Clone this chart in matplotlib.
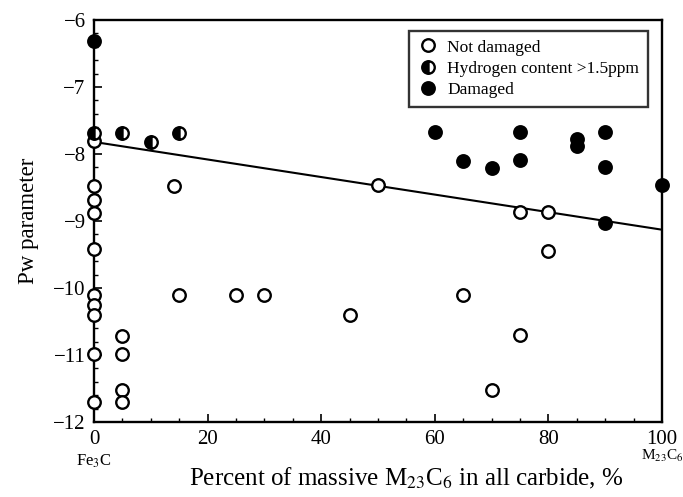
import numpy as np
import matplotlib
matplotlib.use("Agg")
import matplotlib.pyplot as plt
from matplotlib.ticker import MultipleLocator

# data
not_x = [0, 0, 0, 0, 0, 0, 0, 0, 0, 0, 5, 5, 5, 5, 14, 15, 25, 30, 45, 50, 65, 70, 75, 75, 80, 80]
not_y = [-7.8, -8.48, -8.68, -8.88, -9.42, -10.1, -10.25, -10.4, -10.99, -11.7,
         -10.72, -10.99, -11.52, -11.7, -8.48, -10.1, -10.1, -10.1, -10.4, -8.47,
         -10.1, -11.52, -8.87, -10.7, -8.87, -9.45]
hyd_x = [0, 5, 10, 15]
hyd_y = [-7.68, -7.68, -7.82, -7.68]
dam_x = [0, 60, 65, 70, 75, 75, 85, 85, 90, 90, 90, 100]
dam_y = [-6.31, -7.67, -8.11, -8.21, -7.67, -8.09, -7.78, -7.88, -7.67, -8.19, -9.03, -8.46]
line_x = [0, 100]
line_y = [-7.82, -9.13]

plt.rcParams['font.family'] = ['Liberation Serif', 'DejaVu Serif']
plt.rcParams['mathtext.fontset'] = 'stix'

fig = plt.figure(figsize=(6.83, 4.97), dpi=100)
ax = fig.add_axes([0.1376, 0.1509, 0.9693 - 0.1376, 0.9598 - 0.1509])

ax.plot(line_x, line_y, color='black', lw=1.5, zorder=2)
ms = 9
ax.plot(not_x, not_y, 'o', ls='none', ms=ms, mfc='white', mec='black', mew=1.7,
        clip_on=False, zorder=3, label='Not damaged')
ax.plot(hyd_x, hyd_y, 'o', ls='none', ms=ms, mfc='black', mec='black', mew=1.7,
        fillstyle='left', markerfacecoloralt='white',
        clip_on=False, zorder=3, label='Hydrogen content >1.5ppm')
ax.plot(dam_x, dam_y, 'o', ls='none', ms=ms, mfc='black', mec='black', mew=1.7,
        clip_on=False, zorder=3, label='Damaged')

ax.set_xlim(0, 100)
ax.set_ylim(-12, -6)
ax.xaxis.set_major_locator(MultipleLocator(20))
ax.xaxis.set_minor_locator(MultipleLocator(5))
ax.yaxis.set_major_locator(MultipleLocator(1))
ax.yaxis.set_minor_locator(MultipleLocator(0.2))
ax.tick_params(which='both', direction='in', labelsize=15, top=False, right=False)
ax.tick_params(which='major', length=6, width=1.2, pad=6)
ax.tick_params(which='minor', length=3, width=1)
for s in ax.spines.values():
    s.set_linewidth(1.7)

ax.set_ylabel('Pw parameter', fontsize=16.5, labelpad=10)
ax.set_xlabel('Percent of massive M$_{23}$C$_6$ in all carbide, %', fontsize=18,
              labelpad=12, x=0.55)
ax.text(0, -12.58, 'Fe$_3$C', ha='center', va='center', fontsize=12)
ax.text(100, -12.5, 'M$_{23}$C$_6$', ha='center', va='center', fontsize=11)

leg = ax.legend(loc='upper right', bbox_to_anchor=(0.99, 0.995), fontsize=12.5,
                frameon=True, fancybox=False, edgecolor='black', handletextpad=0.5,
                borderpad=0.5, labelspacing=0.3, handlelength=1.2)
leg.get_frame().set_linewidth(1.7)

fig.savefig('out.png', dpi=100)
